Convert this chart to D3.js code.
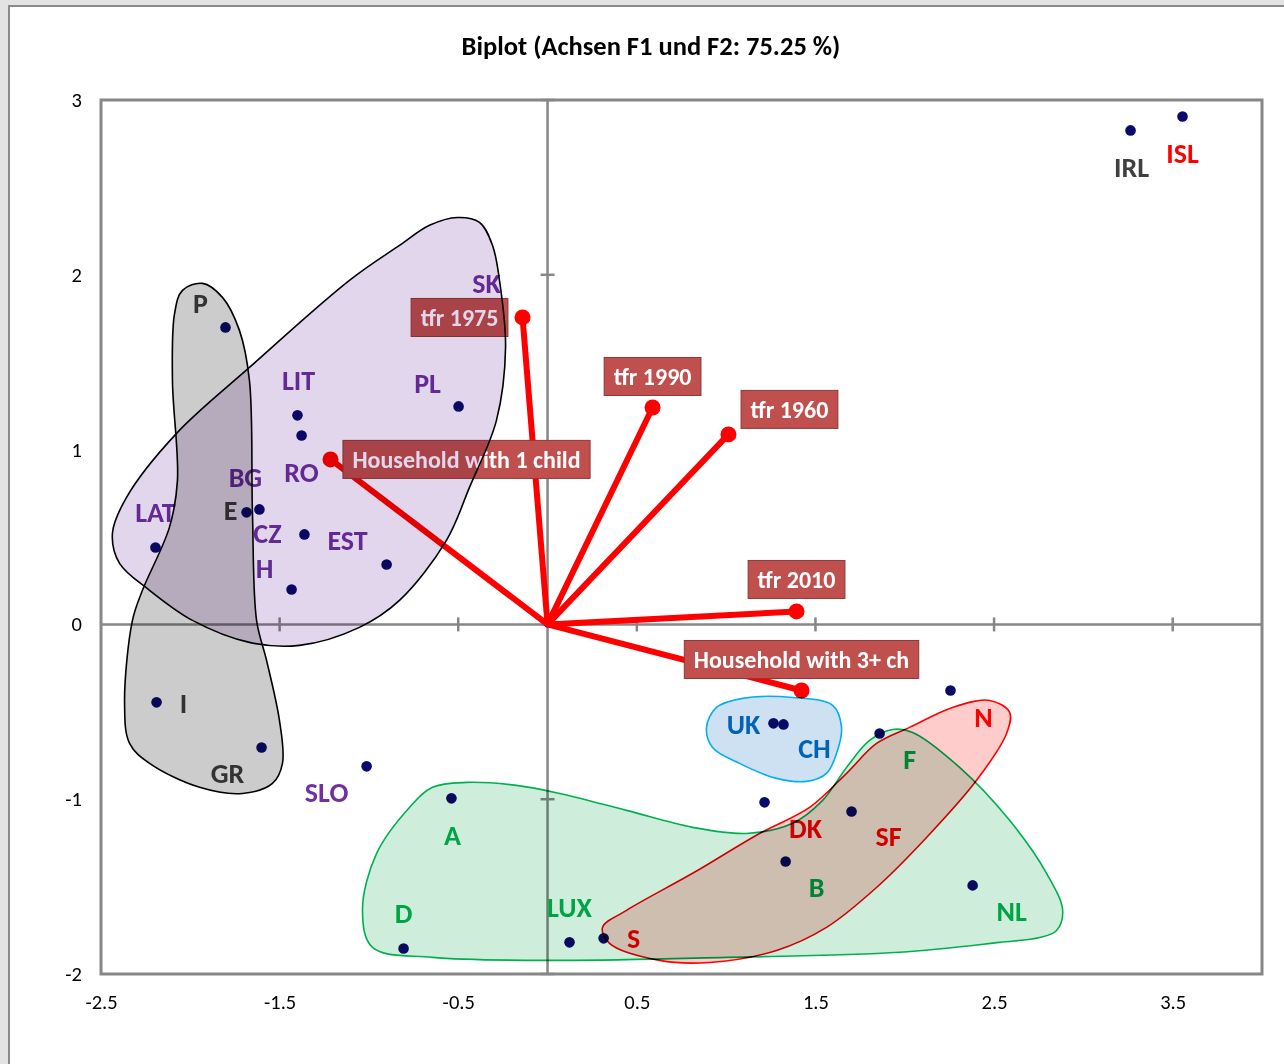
<!DOCTYPE html>
<html><head><meta charset="utf-8">
<script src="https://cdn.jsdelivr.net/npm/d3@7"></script>
<style>
html,body{margin:0;padding:0;background:#e3e3e3;}
svg{display:block;}
text{font-family:Carlito,Calibri,Lato,sans-serif;}
</style></head><body>
<svg id="chart" width="1284" height="1064"></svg>
<script>
// ---------------- data ----------------
const chartTitle = "Biplot (Achsen F1 und F2: 75.25 %)";
const xTicks = [-2.5, -1.5, -0.5, 0.5, 1.5, 2.5, 3.5];
const yTicks = [3, 2, 1, 0, -1, -2];

const countries = ["IRL","ISL","P","SK","LIT","RO","PL","LAT","E","BG","CZ","EST","H","I","GR","SLO","A","D","LUX","S","UK","CH","DK","SF","B","F","N","NL"];
const countryF1 = [3.264,3.555,-1.803,-0.14,-1.400,-1.377,-0.498,-2.195,-1.685,-1.613,-1.361,-0.901,-1.433,-2.189,-1.601,-1.013,-0.538,-0.806,0.123,0.314,1.265,1.321,1.215,1.702,1.333,1.859,2.256,2.380];
const countryF2 = [2.826,2.906,1.699,1.756,1.196,1.081,1.247,0.440,0.641,0.658,0.515,0.343,0.200,-0.446,-0.704,-0.812,-0.995,-1.854,-1.819,-1.796,-0.566,-0.572,-1.018,-1.070,-1.356,-0.624,-0.378,-1.493];
const countryGroup = ["other","nordic","south","east","east","east","east","east","south","east","east","east","east","south","south","east","central","central","central","nordic","anglo","anglo","nordic","nordic","central","central","nordic","central"];

const variables = ["tfr 1975","tfr 1990","tfr 1960","tfr 2010","Household with 1 child","Household with 3+ ch"];
const variableF1 = [-0.14, 0.588, 1.013, 1.394, -1.215, 1.422];
const variableF2 = [1.756, 1.241, 1.087, 0.074, 0.944, -0.378];

// group outlines (data units)
const hullEast = [[-1.109,1.968],[-0.829,2.168],[-0.661,2.283],[-0.504,2.328],[-0.381,2.300],[-0.308,2.168],[-0.269,1.968],[-0.235,1.585],[-0.286,1.167],[-0.437,0.784],[-0.566,0.481],[-0.829,0.137],[-1.053,-0.017],[-1.389,-0.120],[-1.669,-0.103],[-1.988,0.023],[-2.228,0.195],[-2.396,0.349],[-2.436,0.521],[-2.357,0.727],[-2.077,1.093],[-1.669,1.470]];
const hullSouth = [[-1.932,1.951],[-1.820,1.871],[-1.725,1.682],[-1.669,1.396],[-1.652,0.635],[-1.629,0.023],[-1.573,-0.206],[-1.501,-0.549],[-1.484,-0.795],[-1.540,-0.910],[-1.708,-0.967],[-1.948,-0.932],[-2.228,-0.795],[-2.340,-0.681],[-2.368,-0.452],[-2.324,0.023],[-2.268,0.195],[-2.117,0.555],[-2.072,0.824],[-2.100,1.396],[-2.088,1.779],[-2.044,1.911]];
const hullAnglo = [[0.890,-0.589],[0.946,-0.475],[1.092,-0.423],[1.372,-0.418],[1.596,-0.463],[1.646,-0.589],[1.618,-0.738],[1.562,-0.852],[1.450,-0.898],[1.282,-0.881],[1.075,-0.795],[0.924,-0.704]];
const hullNordic = [[2.475,-0.435],[2.587,-0.503],[2.570,-0.624],[2.402,-0.892],[2.122,-1.219],[1.842,-1.505],[1.562,-1.733],[1.282,-1.865],[0.907,-1.934],[0.627,-1.922],[0.347,-1.825],[0.308,-1.733],[0.442,-1.636],[0.812,-1.424],[1.187,-1.196],[1.467,-1.047],[1.674,-0.852],[1.842,-0.681],[2.027,-0.589],[2.268,-0.475]];
const hullCentral = [[-0.644,-0.932],[-0.454,-0.904],[-0.174,-0.921],[0.067,-0.967],[0.442,-1.064],[0.812,-1.161],[1.114,-1.196],[1.372,-1.138],[1.540,-1.007],[1.674,-0.818],[1.803,-0.664],[1.932,-0.601],[2.044,-0.618],[2.307,-0.818],[2.587,-1.121],[2.794,-1.424],[2.884,-1.636],[2.850,-1.751],[2.755,-1.791],[2.531,-1.819],[1.971,-1.876],[1.002,-1.905],[0.067,-1.922],[-0.644,-1.905],[-0.980,-1.848],[-1.036,-1.636],[-0.957,-1.310],[-0.773,-1.047]];

// ---------------- layout / style ----------------
const countryLabelOffset = [[1,37],[0,37],[-25,-24],[-36,-34],[1,-35],[0,37],[-31,-23],[0,-35],[-16,-2],[-14,-32],[-37,-1],[-39,-24],[-27,-21],[27,1],[-34,26],[-40,26],[1,37],[0,-35],[0,-35],[30,0],[-30,1],[31,24],[41,26],[37,25],[31,26],[30,26],[33,27],[39,26]];
const variableLabelOffset = [[-63,0],[0,-31],[61,-25],[0,-32],[136,0],[0,-31]];
const groupColor = {other:"#404040", south:"#404040", east:"#7030a0", central:"#00b050", nordic:"#ff0000", anglo:"#0070c0"};
const hullStyles = [
  {pts: hullEast,    fill:"#e2d6ec", stroke:"#000000"},
  {pts: hullSouth,   fill:"#cccccc", stroke:"#000000"},
  {pts: hullAnglo,   fill:"#cde1f3", stroke:"#00b0f0"},
  {pts: hullCentral, fill:"#ceeedb", stroke:"#00b050"},
  {pts: hullNordic,  fill:"#ffcccc", stroke:"#ff0000"}
];
const FONT = "Carlito,Calibri,Lato,sans-serif";

const svg = d3.select("#chart");
const x = d3.scaleLinear().domain([-2.5, 4]).range([101, 1262]);
const y = d3.scaleLinear().domain([-2, 3]).range([974, 100]);

// white chart area
svg.append("rect").attr("x", 9).attr("y", 6).attr("width", 1300).attr("height", 1100)
  .attr("fill", "#ffffff").attr("stroke", "#8a8a8a").attr("stroke-width", 2);

// title
svg.append("text").attr("x", 651).attr("y", 46).attr("dy", "0.35em")
  .attr("text-anchor", "middle").attr("font-weight", "bold").attr("font-size", 26.5)
  .attr("fill", "#000").text(chartTitle);

// plot border
const axisColor = "#878787";
svg.append("rect").attr("x", x(-2.5)).attr("y", y(3))
  .attr("width", x(4) - x(-2.5)).attr("height", y(-2) - y(3))
  .attr("fill", "none").attr("stroke", axisColor).attr("stroke-width", 3);

// zero lines
svg.append("line").attr("x1", x(-2.5)).attr("x2", x(4)).attr("y1", y(0)).attr("y2", y(0))
  .attr("stroke", axisColor).attr("stroke-width", 2.5);
svg.append("line").attr("x1", x(0)).attr("x2", x(0)).attr("y1", y(3)).attr("y2", y(-2))
  .attr("stroke", axisColor).attr("stroke-width", 2.5);
// tick marks on zero lines
svg.selectAll(".xtm").data(xTicks.slice(1)).join("line")
  .attr("x1", d => x(d)).attr("x2", d => x(d)).attr("y1", y(0) - 7).attr("y2", y(0) + 7)
  .attr("stroke", axisColor).attr("stroke-width", 2.5);
svg.selectAll(".ytm").data(yTicks).join("line")
  .attr("x1", x(0) - 7).attr("x2", x(0) + 7).attr("y1", d => y(d)).attr("y2", d => y(d))
  .attr("stroke", axisColor).attr("stroke-width", 2.5);

// tick labels via d3 axes
const xAxis = svg.append("g").attr("transform", `translate(0,${y(-2)})`)
  .call(d3.axisBottom(x).tickValues(xTicks).tickSize(0).tickFormat(d => String(d)));
const yAxis = svg.append("g").attr("transform", `translate(${x(-2.5)},0)`)
  .call(d3.axisLeft(y).tickValues(yTicks).tickSize(0).tickPadding(19).tickFormat(d => String(d)));
[xAxis, yAxis].forEach(g => {
  g.select(".domain").remove();
  g.selectAll("text").attr("font-family", FONT).attr("font-size", 20.5).attr("fill", "#000");
});
xAxis.selectAll("text").attr("y", 28).attr("dy", "0.35em");

// country dots
svg.selectAll(".dot").data(countries).join("circle")
  .attr("cx", (d, i) => x(countryF1[i])).attr("cy", (d, i) => y(countryF2[i]))
  .attr("r", 5.3).attr("fill", "#0a0a6c");

// variable vectors
const vg = svg.append("g");
variables.forEach((v, i) => {
  vg.append("line").attr("x1", x(0)).attr("y1", y(0))
    .attr("x2", x(variableF1[i])).attr("y2", y(variableF2[i]))
    .attr("stroke", "#ff0000").attr("stroke-width", 6).attr("stroke-linecap", "round");
  vg.append("circle").attr("cx", x(variableF1[i])).attr("cy", y(variableF2[i]))
    .attr("r", 8).attr("fill", "#ff0000");
});
variables.forEach((v, i) => {
  const cx = x(variableF1[i]) + variableLabelOffset[i][0];
  const cy = y(variableF2[i]) + variableLabelOffset[i][1];
  const g = vg.append("g");
  const r = g.append("rect");
  const t = g.append("text").attr("x", cx).attr("y", cy).attr("dy", "0.35em")
    .attr("text-anchor", "middle").attr("font-weight", "bold").attr("font-size", 24)
    .attr("fill", "#ffffff").text(v);
  const w = t.node().getComputedTextLength() + 19;
  r.attr("x", cx - w / 2).attr("y", cy - 19).attr("width", w).attr("height", 38)
    .attr("fill", "#c0504d").attr("stroke", "#8c3836").attr("stroke-width", 1);
});

// country labels
svg.selectAll(".clab").data(countries).join("text")
  .attr("x", (d, i) => x(countryF1[i]) + countryLabelOffset[i][0])
  .attr("y", (d, i) => y(countryF2[i]) + countryLabelOffset[i][1])
  .attr("dy", "0.35em").attr("text-anchor", "middle")
  .attr("font-weight", "bold").attr("font-size", 28)
  .attr("fill", (d, i) => groupColor[countryGroup[i]])
  .text(d => d);

// group outlines (multiply blended on top)
const hullLine = d3.line().x(d => x(d[0])).y(d => y(d[1])).curve(d3.curveCatmullRomClosed.alpha(0.5));
svg.selectAll(".hull").data(hullStyles).join("path")
  .attr("d", d => hullLine(d.pts))
  .attr("fill", d => d.fill).attr("stroke", d => d.stroke).attr("stroke-width", 1.6)
  .style("mix-blend-mode", "multiply");
</script>
</body></html>
